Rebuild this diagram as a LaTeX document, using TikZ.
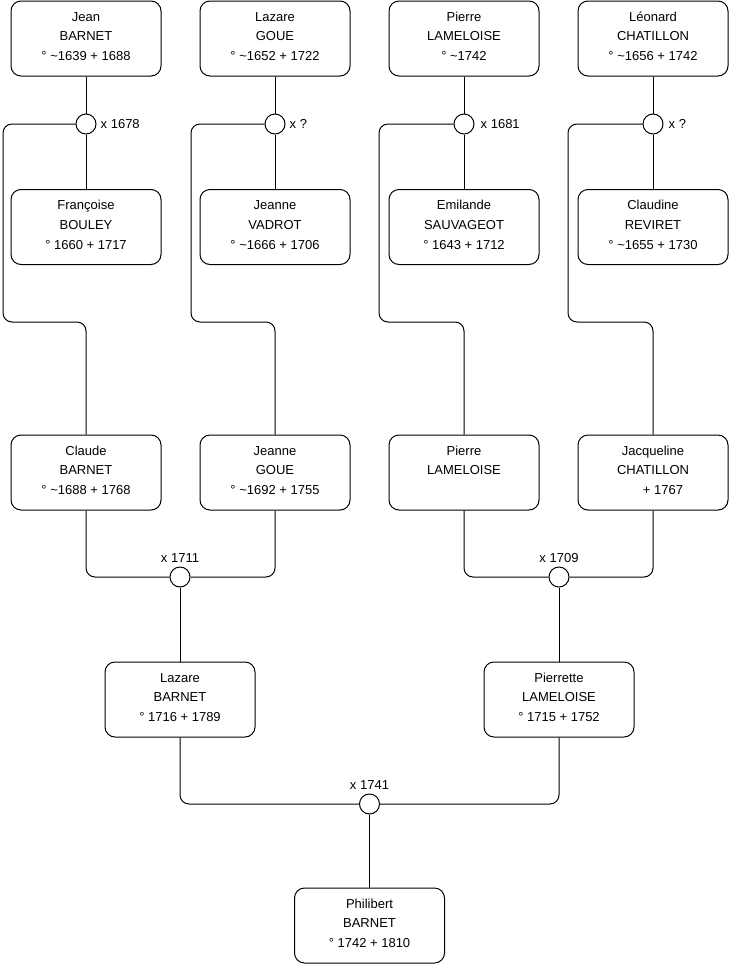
\documentclass[tikz,border=0pt]{standalone}
\usepackage{fontspec}
\setmainfont{Liberation Sans}
\newcommand\pers[3]{\parbox[c][75pt][t]{150pt}{\fontsize{13}{19.8}\selectfont\centering\rule{0pt}{20pt}#1\\#2\\#3}}
\begin{document}
\begin{tikzpicture}[x=1pt,y=-1pt,
  person/.style={draw, rounded corners=10pt, inner sep=0pt, line width=1pt},
  wed/.style={draw, circle, minimum size=20pt, inner sep=0pt, fill=white, line width=1pt},
  link/.style={line width=1pt, rounded corners=9pt},
  lbl/.style={inner sep=0pt, font=\fontsize{13}{15}\selectfont}]
\useasboundingbox (0,0) rectangle (740,975);
% row 1
\node[person] (jean) at (86,38.5) {\pers{Jean}{BARNET}{° \textasciitilde1639 + 1688}};
\node[person] (lazareg) at (275,38.5) {\pers{Lazare}{GOUE}{° \textasciitilde1652 + 1722}};
\node[person] (pierrel) at (464,38.5) {\pers{Pierre}{LAMELOISE}{° \textasciitilde1742}};
\node[person] (leonard) at (653,38.5) {\pers{Léonard}{CHATILLON}{° \textasciitilde1656 + 1742}};
% row 2
\node[person] (francoise) at (86,227) {\pers{Françoise}{BOULEY}{° 1660 + 1717}};
\node[person] (jeannev) at (275,227) {\pers{Jeanne}{VADROT}{° \textasciitilde1666 + 1706}};
\node[person] (emilande) at (464,227) {\pers{Emilande}{SAUVAGEOT}{° 1643 + 1712}};
\node[person] (claudine) at (653,227) {\pers{Claudine}{REVIRET}{° \textasciitilde1655 + 1730}};
% row 3
\node[person] (claude) at (86,472.5) {\pers{Claude}{BARNET}{° \textasciitilde1688 + 1768}};
\node[person] (jeanneg) at (275,472.5) {\pers{Jeanne}{GOUE}{° \textasciitilde1692 + 1755}};
\node[person] (pierre2) at (464,472.5) {\pers{Pierre}{LAMELOISE}{}};
\node[person] (jacqueline) at (653,472.5) {\pers{Jacqueline}{CHATILLON}{\hspace*{20pt}+ 1767}};
% row 4
\node[person] (lazareb) at (180,699.5) {\pers{Lazare}{BARNET}{° 1716 + 1789}};
\node[person] (pierrette) at (559,699.5) {\pers{Pierrette}{LAMELOISE}{° 1715 + 1752}};
% row 5
\node[person] (philibert) at (369.5,925.5) {\pers{Philibert}{BARNET}{° 1742 + 1810}};

% marriage circles
\node[wed] (c1) at (86,124) {};
\node[wed] (c2) at (275,124) {};
\node[wed] (c3) at (464,124) {};
\node[wed] (c4) at (653,124) {};
\node[wed] (j1) at (180,577) {};
\node[wed] (j2) at (559,577) {};
\node[wed] (j3) at (369.5,804) {};

% labels
\node[lbl, anchor=west] (l1) at ([xshift=4pt]c1.east) {x 1678};
\node[lbl, anchor=west] (l2) at ([xshift=4pt]c2.east) {x ?};
\node[lbl, anchor=west] (l3) at ([xshift=6pt]c3.east) {x 1681};
\node[lbl, anchor=west] (l4) at ([xshift=5pt]c4.east) {x ?};
\node[lbl, anchor=south] (l5) at ([yshift=4pt]j1.north) {x 1711};
\node[lbl, anchor=south] (l6) at ([yshift=4pt]j2.north) {x 1709};
\node[lbl, anchor=south] (l7) at ([yshift=4pt]j3.north) {x 1741};

% top couples
\draw[link] (jean.south) -- (c1.north);
\draw[link] (c1.south) -- (francoise.north);
\draw[link] (lazareg.south) -- (c2.north);
\draw[link] (c2.south) -- (jeannev.north);
\draw[link] (pierrel.south) -- (c3.north);
\draw[link] (c3.south) -- (emilande.north);
\draw[link] (leonard.south) -- (c4.north);
\draw[link] (c4.south) -- (claudine.north);

% to children
\draw[link] (c1.west) -| (3,322) -| (claude.north);
\draw[link] (c2.west) -| (191,322) -| (jeanneg.north);
\draw[link] (c3.west) -| (379,322) -| (pierre2.north);
\draw[link] (c4.west) -| (568,322) -| (jacqueline.north);

% second generation
\draw[link] (claude.south) |- (j1.west);
\draw[link] (jeanneg.south) |- (j1.east);
\draw[link] (j1.south) -- (lazareb.north);
\draw[link] (pierre2.south) |- (j2.west);
\draw[link] (jacqueline.south) |- (j2.east);
\draw[link] (j2.south) -- (pierrette.north);

% third generation
\draw[link] (lazareb.south) |- (j3.west);
\draw[link] (pierrette.south) |- (j3.east);
\draw[link] (j3.south) -- (philibert.north);
\end{tikzpicture}
\end{document}
